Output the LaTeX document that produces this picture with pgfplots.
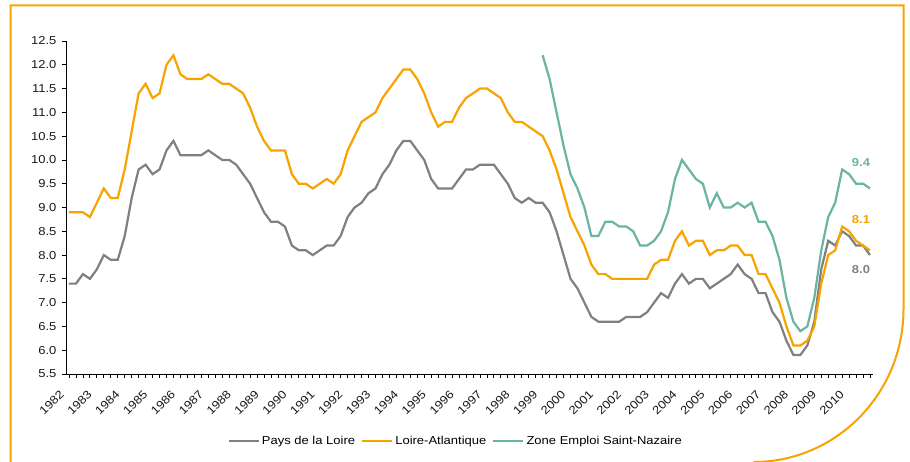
\documentclass[border=0pt]{standalone}
\usepackage{fontspec}
\setmainfont[FakeStretch=1.13]{Liberation Sans}
\usepackage{pgfplots}
\pgfplotsset{compat=1.18}
\usepackage{pgfplotstable}
\definecolor{cgray}{RGB}{128,128,128}
\definecolor{corange}{RGB}{247,163,0}
\definecolor{cteal}{RGB}{106,180,162}
\newcommand{\lblfont}{\fontsize{11.5}{13.5}\selectfont}

\pgfplotstableread{
x y
0 7.4
1 7.4
2 7.6
3 7.5
4 7.7
5 8.0
6 7.9
7 7.9
8 8.4
9 9.2
10 9.8
11 9.9
12 9.7
13 9.8
14 10.2
15 10.4
16 10.1
17 10.1
18 10.1
19 10.1
20 10.2
21 10.1
22 10.0
23 10.0
24 9.9
25 9.7
26 9.5
27 9.2
28 8.9
29 8.7
30 8.7
31 8.6
32 8.2
33 8.1
34 8.1
35 8.0
36 8.1
37 8.2
38 8.2
39 8.4
40 8.8
41 9.0
42 9.1
43 9.3
44 9.4
45 9.7
46 9.9
47 10.2
48 10.4
49 10.4
50 10.2
51 10.0
52 9.6
53 9.4
54 9.4
55 9.4
56 9.6
57 9.8
58 9.8
59 9.9
60 9.9
61 9.9
62 9.7
63 9.5
64 9.2
65 9.1
66 9.2
67 9.1
68 9.1
69 8.9
70 8.5
71 8.0
72 7.5
73 7.3
74 7.0
75 6.7
76 6.6
77 6.6
78 6.6
79 6.6
80 6.7
81 6.7
82 6.7
83 6.8
84 7.0
85 7.2
86 7.1
87 7.4
88 7.6
89 7.4
90 7.5
91 7.5
92 7.3
93 7.4
94 7.5
95 7.6
96 7.8
97 7.6
98 7.5
99 7.2
100 7.2
101 6.8
102 6.6
103 6.2
104 5.9
105 5.9
106 6.1
107 6.6
108 7.7
109 8.3
110 8.2
111 8.5
112 8.4
113 8.2
114 8.2
115 8.0
}\pays

\pgfplotstableread{
x y
0 8.9
1 8.9
2 8.9
3 8.8
4 9.1
5 9.4
6 9.2
7 9.2
8 9.8
9 10.6
10 11.4
11 11.6
12 11.3
13 11.4
14 12.0
15 12.2
16 11.8
17 11.7
18 11.7
19 11.7
20 11.8
21 11.7
22 11.6
23 11.6
24 11.5
25 11.4
26 11.1
27 10.7
28 10.4
29 10.2
30 10.2
31 10.2
32 9.7
33 9.5
34 9.5
35 9.4
36 9.5
37 9.6
38 9.5
39 9.7
40 10.2
41 10.5
42 10.8
43 10.9
44 11.0
45 11.3
46 11.5
47 11.7
48 11.9
49 11.9
50 11.7
51 11.4
52 11.0
53 10.7
54 10.8
55 10.8
56 11.1
57 11.3
58 11.4
59 11.5
60 11.5
61 11.4
62 11.3
63 11.0
64 10.8
65 10.8
66 10.7
67 10.6
68 10.5
69 10.2
70 9.8
71 9.3
72 8.8
73 8.5
74 8.2
75 7.8
76 7.6
77 7.6
78 7.5
79 7.5
80 7.5
81 7.5
82 7.5
83 7.5
84 7.8
85 7.9
86 7.9
87 8.3
88 8.5
89 8.2
90 8.3
91 8.3
92 8.0
93 8.1
94 8.1
95 8.2
96 8.2
97 8.0
98 8.0
99 7.6
100 7.6
101 7.3
102 7.0
103 6.5
104 6.1
105 6.1
106 6.2
107 6.5
108 7.4
109 8.0
110 8.1
111 8.6
112 8.5
113 8.3
114 8.2
115 8.1
}\loireatl

\pgfplotstableread{
x y
68 12.2
69 11.7
70 11.0
71 10.3
72 9.7
73 9.4
74 9.0
75 8.4
76 8.4
77 8.7
78 8.7
79 8.6
80 8.6
81 8.5
82 8.2
83 8.2
84 8.3
85 8.5
86 8.9
87 9.6
88 10.0
89 9.8
90 9.6
91 9.5
92 9.0
93 9.3
94 9.0
95 9.0
96 9.1
97 9.0
98 9.1
99 8.7
100 8.7
101 8.4
102 7.9
103 7.1
104 6.6
105 6.4
106 6.5
107 7.1
108 8.1
109 8.8
110 9.1
111 9.8
112 9.7
113 9.5
114 9.5
115 9.4
}\nazaire

\begin{document}
\begin{tikzpicture}
\useasboundingbox (0pt,0pt) rectangle (910pt,461pt);
\fill[white] (0pt,0pt) rectangle (910pt,461pt);
\draw[corange, line width=2pt] (10.5pt,-5pt) -- (10.5pt,455.5pt) -- (903.5pt,455.5pt) -- (903.5pt,152pt) arc[start angle=0, end angle=-90, x radius=150pt, y radius=153pt];
\begin{axis}[
  at={(66pt,87pt)}, anchor=south west,
  scale only axis, width=807pt, height=333pt,
  xmin=-0.43, xmax=115.43, ymin=5.5, ymax=12.5,
  axis lines*=left,
  axis line style={black, line width=0.8pt},
  tick style={black, line width=0.8pt},
  tick align=outside,
  major tick length=4pt, minor tick length=4pt,
  ytick={5.5,6,...,12.5},
  xtick={0,4,...,112},
  minor xtick={0,1,...,115},
  xticklabels={1982,1983,1984,1985,1986,1987,1988,1989,1990,1991,1992,1993,1994,1995,1996,1997,1998,1999,2000,2001,2002,2003,2004,2005,2006,2007,2008,2009,2010},
  /pgf/number format/assume math mode=true,
  yticklabel style={/pgf/number format/fixed, /pgf/number format/fixed zerofill, /pgf/number format/precision=1, xshift=-2pt},
  tick label style={font=\lblfont, text=black!90},
  xticklabel style={xshift=-7pt, yshift=-14pt, rotate=45, anchor=east, inner sep=0pt},
  legend style={at={(0.483,-0.201)}, anchor=center, draw=none, fill=none, legend columns=3,
    font=\lblfont, /tikz/every even column/.append style={column sep=4pt}},
  legend image code/.code={\draw[#1, line width=2.2pt] (0pt,0pt) -- (30pt,0pt);},
  clip=false,
]
\addplot[cgray, line width=2.2pt] table {\pays};
\addlegendentry{Pays de la Loire}
\addplot[corange, line width=2.2pt] table {\loireatl};
\addlegendentry{Loire-Atlantique}
\addplot[cteal, line width=2.2pt] table {\nazaire};
\addlegendentry{Zone Emploi Saint-Nazaire}
\node[font=\lblfont\bfseries, text=cteal] at (axis cs:113.7,9.94) {9.4};
\node[font=\lblfont\bfseries, text=corange] at (axis cs:113.7,8.75) {8.1};
\node[font=\lblfont\bfseries, text=cgray] at (axis cs:113.7,7.69) {8.0};
\end{axis}
\end{tikzpicture}
\end{document}
